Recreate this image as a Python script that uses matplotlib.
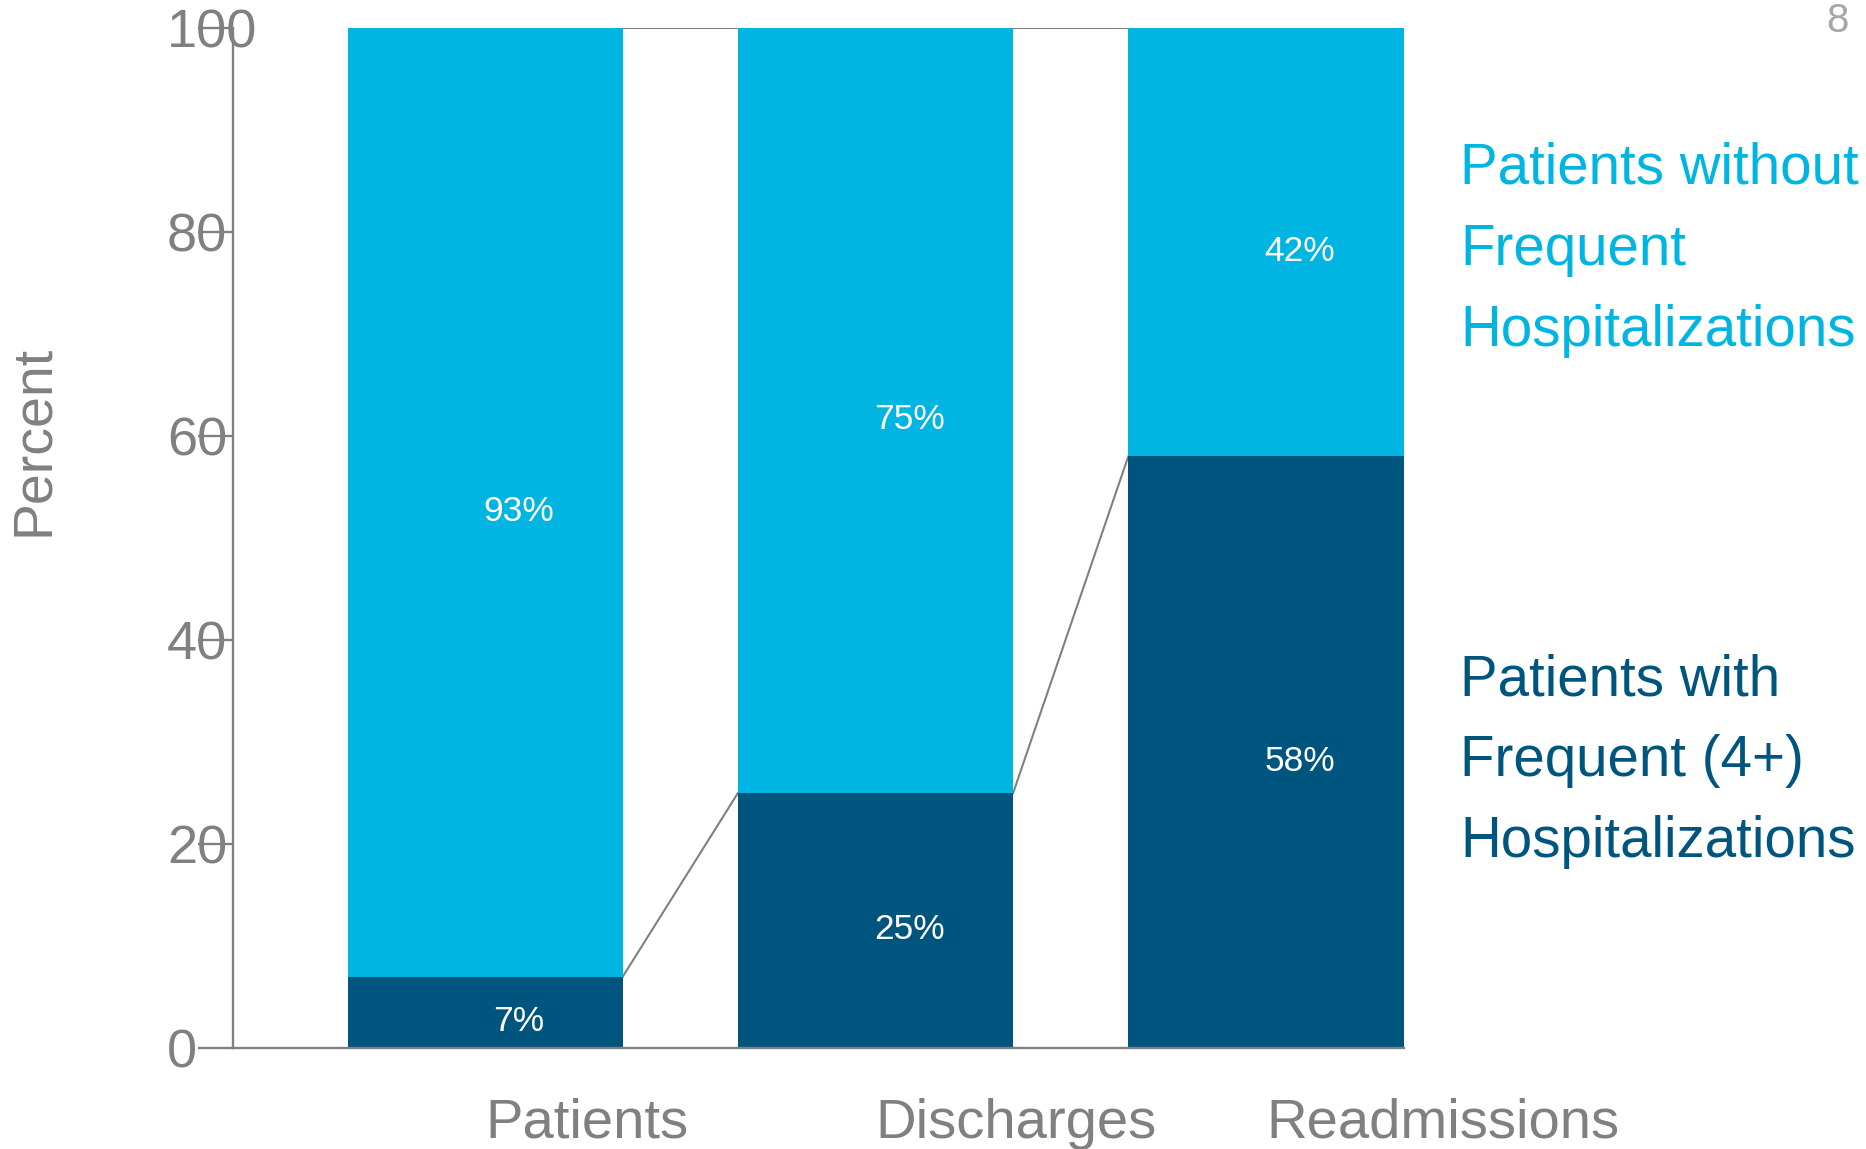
import numpy as np
import matplotlib.pyplot as plt

plt.rcParams['font.family'] = ['Liberation Sans', 'DejaVu Sans']

# data
categories = ['Patients', 'Discharges', 'Readmissions']
frequent = [7, 25, 58]        # patients with frequent (4+) hospitalizations
not_frequent = [93, 75, 42]   # patients without frequent hospitalizations
yticks = [0, 20, 40, 60, 80, 100]
legend_top = ['Patients without', 'Frequent', 'Hospitalizations']
legend_bottom = ['Patients with', 'Frequent (4+)', 'Hospitalizations']

dark = '#00557f'
cyan = '#00b5e2'
gray = '#808080'

W, H = 1866, 1149
fig = plt.figure(figsize=(W / 100, H / 100), dpi=100)
ax = fig.add_axes([233 / W, 1 - 1048 / H, (1403.5 - 233) / W, (1048 - 28) / H])

x = np.arange(len(categories))
width = 0.705
ax.bar(x, frequent, width, color=dark, zorder=2)
ax.bar(x, not_frequent, width, bottom=frequent, color=cyan, zorder=2)

# series lines between bars
tops = np.array(frequent) + np.array(not_frequent)
for i in range(len(x) - 1):
    xs = [x[i] + width / 2, x[i + 1] - width / 2]
    ax.plot(xs, [frequent[i], frequent[i + 1]], color=gray, lw=1.5, zorder=1)
    ax.plot(xs, [tops[i], tops[i + 1]], color=gray, lw=1.5, zorder=1)

# percent labels (slightly below segment middle, as in the slide)
for i in range(len(x)):
    ax.text(x[i] + 0.087, frequent[i] / 2 - 0.9, f'{frequent[i]}%', color='white',
            fontsize=25.5, ha='center', va='center')
    ax.text(x[i] + 0.087, frequent[i] + not_frequent[i] / 2 - 0.9, f'{not_frequent[i]}%',
            color='white', fontsize=25.5, ha='center', va='center')

ax.set_xlim(-0.646, x[-1] + width / 2)
ax.set_ylim(0, 100)

for s in ['top', 'right']:
    ax.spines[s].set_visible(False)
for s in ['left', 'bottom']:
    ax.spines[s].set_color(gray)
    ax.spines[s].set_linewidth(1.7)

ax.set_yticks(yticks)
ax.set_yticklabels([str(t) for t in yticks], ha='left')
ax.tick_params(axis='y', direction='out', length=25, width=1.7, color=gray,
               labelcolor=gray, labelsize=39, pad=22.5)

ax.set_xticks(x)
ax.set_xticklabels(categories, ha='left')
ax.tick_params(axis='x', length=0, labelcolor=gray, labelsize=40.5, pad=36)

fig.text(34 / W, 1 - 440 / H, 'Percent', rotation=90, color=gray, fontsize=40,
         ha='center', va='center')

for label, b in zip(legend_top, [184, 265, 346]):
    fig.text(1460 / W, 1 - b / H, label, color=cyan, fontsize=40.7, va='baseline')
for label, b in zip(legend_bottom, [696, 776, 857]):
    fig.text(1460 / W, 1 - b / H, label, color=dark, fontsize=40.7, va='baseline')

fig.text(1826 / W, 1 - 32 / H, '8', color='#a6a6a6', fontsize=29, va='baseline')

fig.savefig('out.png', dpi=100)
